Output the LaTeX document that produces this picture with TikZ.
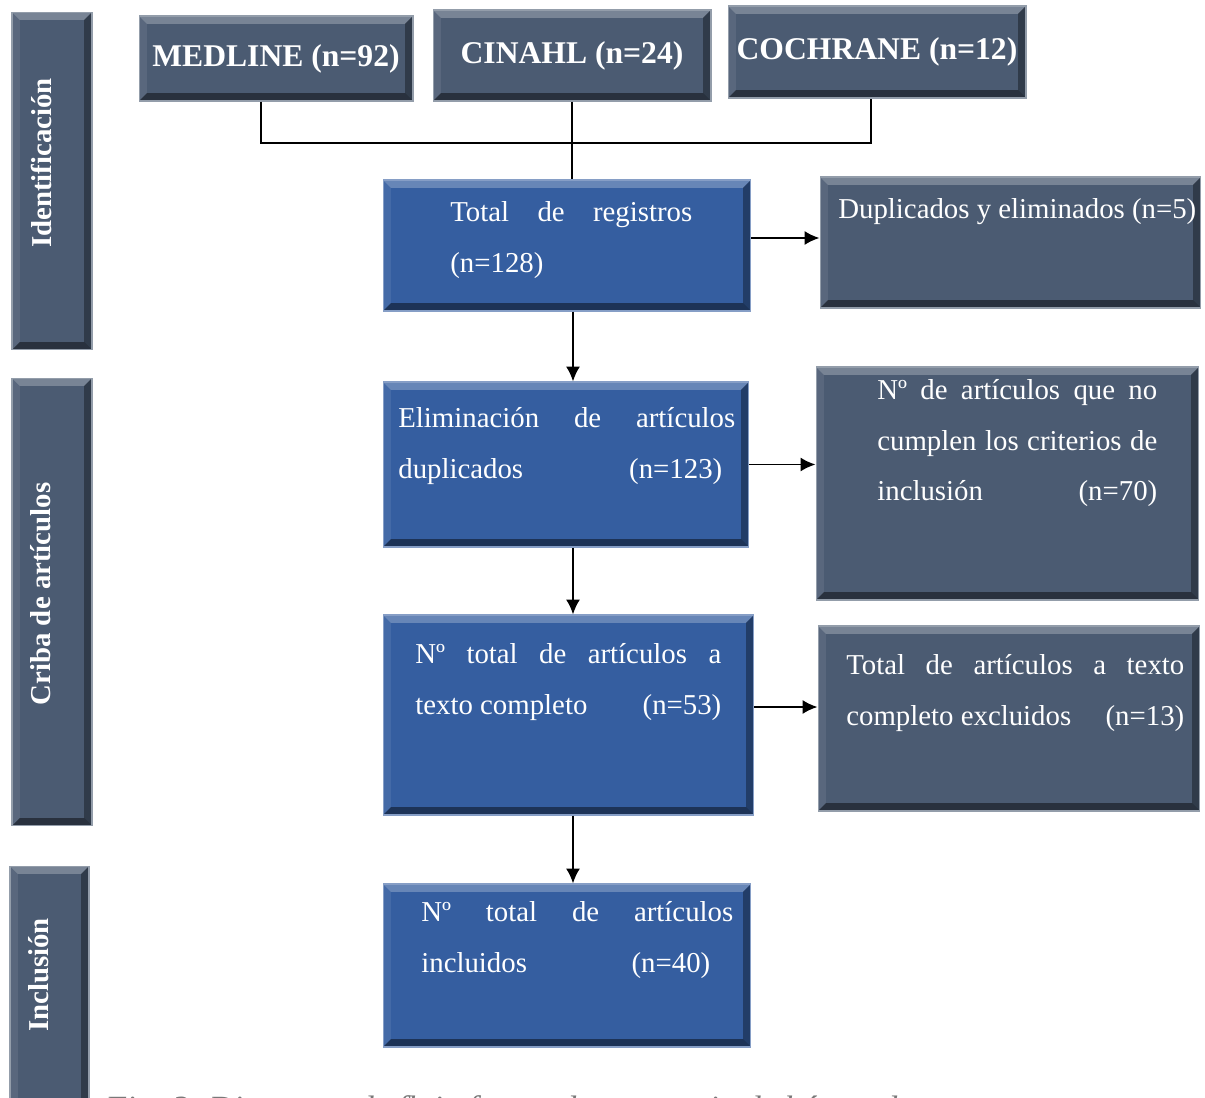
\documentclass[tikz,border=0pt]{standalone}
\usepackage{fontspec}
\setmainfont{Liberation Serif}
\usetikzlibrary{positioning,arrows.meta,calc}

\definecolor{slatefill}{RGB}{75,91,114}
\definecolor{bluefill}{RGB}{53,94,160}
\definecolor{capgray}{RGB}{120,120,120}

\tikzset{
  bevel/.style={path picture={
      \coordinate (bnw) at (path picture bounding box.north west);
      \coordinate (bne) at (path picture bounding box.north east);
      \coordinate (bsw) at (path picture bounding box.south west);
      \coordinate (bse) at (path picture bounding box.south east);
      \fill[white, opacity=.25] (bnw) -- (bne) -- ([shift={(-4.5pt,-4.5pt)}]bne) -- ([shift={(4.5pt,-4.5pt)}]bnw) -- cycle;
      \fill[white, opacity=.08] (bnw) -- (bsw) -- ([shift={(4.5pt,4.5pt)}]bsw) -- ([shift={(4.5pt,-4.5pt)}]bnw) -- cycle;
      \fill[black, opacity=.35] (bne) -- (bse) -- ([shift={(-4.5pt,4.5pt)}]bse) -- ([shift={(-4.5pt,-4.5pt)}]bne) -- cycle;
      \fill[black, opacity=.45] (bsw) -- (bse) -- ([shift={(-4.5pt,4.5pt)}]bse) -- ([shift={(4.5pt,4.5pt)}]bsw) -- cycle;
  }},
  darkbox/.style={bevel, fill=slatefill, draw=slatefill!60!white, line width=.6pt, inner sep=0pt},
  flowbox/.style={bevel, fill=bluefill, draw=bluefill!60!white, line width=.6pt, inner sep=0pt},
  srctxt/.style={text=white, font=\bfseries\fontsize{18}{22}\selectfont},
  sidetxt/.style={rotate=90, text=white, inner sep=0pt, font=\bfseries\fontsize{16.4}{20}\selectfont},
  boxtxt/.style={text=white, inner sep=0pt, anchor=north west, align=left, font=\fontsize{16.4}{28.9}\selectfont},
  link/.style={line width=1.1pt},
}

\begin{document}
\begin{tikzpicture}[x=0.02cm, y=-0.02cm, >={Latex[length=8.5pt,width=8pt]}]
  \useasboundingbox (0,0) rectangle (1205,1098);
  \clip (0,0) rectangle (1205,1098);

  % stage labels
  \node[darkbox, minimum width=1.6cm, minimum height=6.76cm] (ident) at (52,181) {};
  \node[sidetxt] (identtxt) at (41,163) {Identificación};
  \node[darkbox, minimum width=1.6cm, minimum height=8.96cm] (criba) at (52,602) {};
  \node[sidetxt] (cribatxt) at (41,594) {Criba de artículos};
  \node[darkbox, minimum width=1.58cm, minimum height=5.2cm] (inclus) at (49.5,996) {};
  \node[sidetxt] (inclustxt) at (39,975) {Inclusión};

  % databases
  \node[darkbox, srctxt, minimum width=5.48cm, minimum height=1.7cm] (medline) at (276,58.5) {MEDLINE (n=92)};
  \node[darkbox, srctxt, minimum width=5.56cm, minimum height=1.82cm] (cinahl) at (572,55.5) {CINAHL (n=24)};
  \node[darkbox, srctxt, minimum width=5.96cm, minimum height=1.84cm] (cochrane) at (877,52) {COCHRANE (n=12)};

  % main flow
  \node[flowbox, minimum width=7.36cm, minimum height=2.62cm] (total) at (567,245.5) {};
  \node[boxtxt] (totaltxt) at (450,201) {\makebox[4.84cm][s]{Total de registros}\\(n=128)};
  \node[flowbox, minimum width=7.32cm, minimum height=3.3cm] (elim) at (566,464.5) {};
  \node[boxtxt] (elimtxt) at (398,407) {\makebox[6.74cm][s]{Eliminación de artículos}\\\makebox[6.48cm]{duplicados\hfill(n=123)}};
  \node[flowbox, minimum width=7.42cm, minimum height=4cm] (ntotal) at (568.5,715) {};
  \node[boxtxt] (ntotaltxt) at (415,643) {\makebox[6.12cm][s]{Nº total de artículos a}\\\makebox[6.12cm]{texto completo\hfill(n=53)}};
  \node[flowbox, minimum width=7.36cm, minimum height=3.26cm] (incl) at (567,965.5) {};
  \node[boxtxt] (incltxt) at (421,901) {\makebox[6.24cm][s]{Nº total de artículos}\\\makebox[5.78cm]{incluidos\hfill(n=40)}};

  % exclusions
  \node[darkbox, minimum width=7.62cm, minimum height=2.62cm] (dup) at (1010.5,242.5) {};
  \node[boxtxt] (duptxt) at (838,198) {Duplicados y eliminados (n=5)};
  \node[darkbox, minimum width=7.66cm, minimum height=4.66cm] (nocumple) at (1007.5,483.5) {};
  \node[boxtxt] (nocumpletxt) at (877,379) {\makebox[5.6cm][s]{Nº de artículos que no}\\\makebox[5.6cm][s]{cumplen los criterios de}\\\makebox[5.6cm]{inclusión\hfill(n=70)}};
  \node[darkbox, minimum width=7.64cm, minimum height=3.7cm] (excl) at (1009,718.5) {};
  \node[boxtxt] (excltxt) at (846,654) {\makebox[6.76cm][s]{Total de artículos a texto}\\\makebox[6.76cm]{completo excluidos\hfill(n=13)}};

  \node[anchor=north west, inner sep=0pt, text=capgray, font=\itshape\fontsize{19.3}{23}\selectfont] (caption) at (105,1095) {Fig. 3. Diagrama de flujo fuente de estrategia de búsqueda};

  % connectors
  \coordinate (join) at (573,143);
  \draw[link] ([xshift=-0.3cm]medline.south) |- (join) -| ([xshift=-0.12cm]cochrane.south);
  \draw[link] (cinahl.south) -- (cinahl.south |- total.north);
  \draw[link,->] ([xshift=0.12cm]total.south) -- ([xshift=0.12cm]total.south |- elim.north);
  \draw[link,->] ([yshift=0.15cm]total.east) -- ([yshift=0.15cm]total.east -| dup.west);
  \draw[link,->] (elim.east) -- (elim.east -| nocumple.west);
  \draw[link,->] ([xshift=0.14cm]elim.south) -- ([xshift=0.14cm]elim.south |- ntotal.north);
  \draw[link,->] ([yshift=0.16cm]ntotal.east) -- ([yshift=0.16cm]ntotal.east -| excl.west);
  \draw[link,->] ([xshift=0.09cm]ntotal.south) -- ([xshift=0.09cm]ntotal.south |- incl.north);
\end{tikzpicture}
\end{document}
